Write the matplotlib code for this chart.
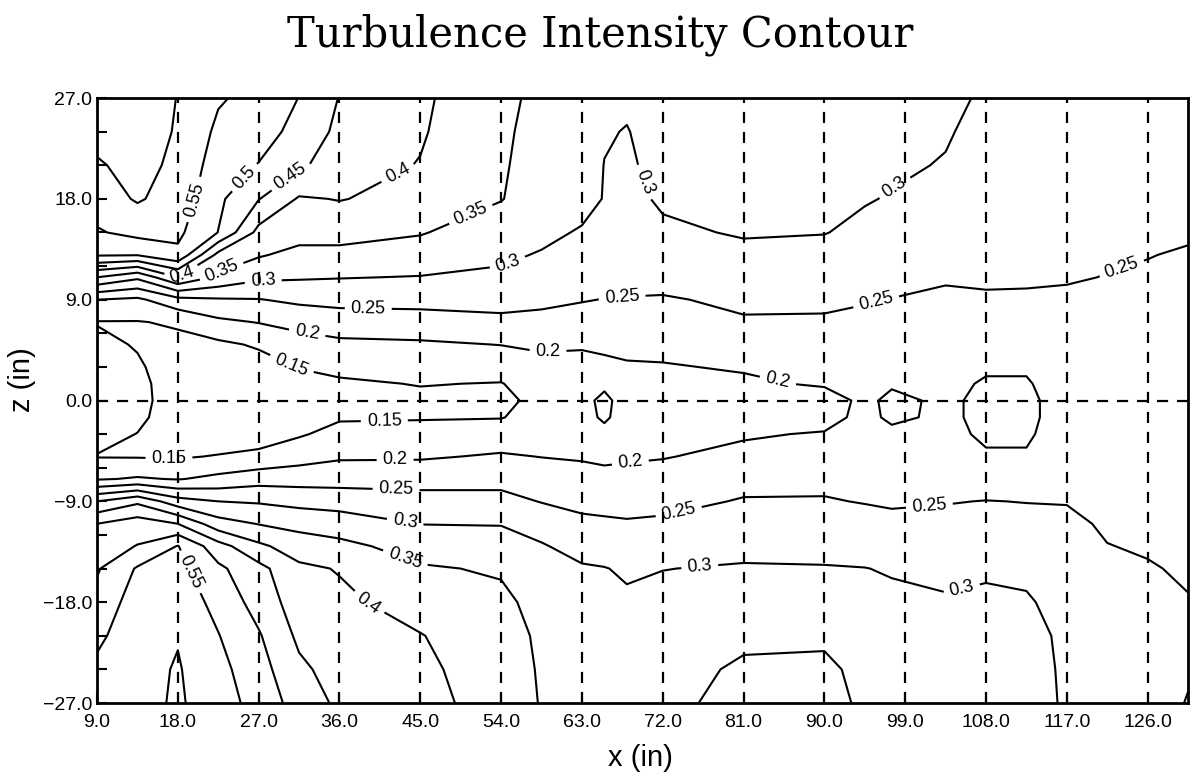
import numpy as np
import matplotlib
matplotlib.use("Agg")
import matplotlib.pyplot as plt

x_st = [9, 13.5, 18, 22.5, 27, 31.5, 36, 45, 54, 58.5, 63, 65.5, 68, 72,
        81, 90, 94.5, 97.5, 103.5, 108, 112.5, 117, 121.5, 126, 130.5]
z_st = [-27, -24, -21, -18, -15, -13, -11, -9, -7, -5, -3, -1.5, 0,
        1.5, 3, 5, 7, 9, 11, 13, 15, 18, 21, 24, 27]

# turbulence intensity, one row per x station, z from -27 up to 27
ti = [
    [0.57, 0.56, 0.54, 0.515, 0.495, 0.475, 0.45, 0.35, 0.195, 0.148, 0.165, 0.17, 0.175,
     0.175, 0.17, 0.16, 0.148, 0.2, 0.35, 0.505, 0.545, 0.575, 0.595, 0.615, 0.63],
    [0.585, 0.583, 0.58, 0.575, 0.555, 0.502, 0.475, 0.39, 0.205, 0.147, 0.149, 0.16, 0.165,
     0.163, 0.155, 0.147, 0.148, 0.19, 0.31, 0.503, 0.565, 0.605, 0.615, 0.628, 0.64],
    [0.606, 0.604, 0.597, 0.58, 0.565, 0.552, 0.45, 0.32, 0.197, 0.145, 0.13, 0.125, 0.125,
     0.125, 0.13, 0.14, 0.155, 0.235, 0.4, 0.54, 0.56, 0.58, 0.59, 0.595, 0.598],
    [0.575, 0.565, 0.552, 0.535, 0.51, 0.47, 0.37, 0.3, 0.213, 0.153, 0.12, 0.115, 0.115,
     0.115, 0.12, 0.14, 0.19, 0.245, 0.34, 0.385, 0.499, 0.51, 0.525, 0.54, 0.555],
    [0.53, 0.52, 0.505, 0.48, 0.465, 0.41, 0.348, 0.295, 0.23, 0.16, 0.13, 0.12, 0.115,
     0.12, 0.13, 0.156, 0.202, 0.248, 0.31, 0.355, 0.385, 0.452, 0.498, 0.52, 0.535],
    [0.48, 0.46, 0.44, 0.425, 0.41, 0.375, 0.335, 0.285, 0.23, 0.18, 0.145, 0.13, 0.125,
     0.135, 0.152, 0.18, 0.215, 0.26, 0.305, 0.335, 0.37, 0.395, 0.46, 0.485, 0.499],
    [0.44, 0.43, 0.42, 0.41, 0.397, 0.363, 0.325, 0.28, 0.23, 0.194, 0.165, 0.145, 0.135,
     0.143, 0.162, 0.19, 0.225, 0.265, 0.302, 0.335, 0.37, 0.402, 0.42, 0.438, 0.448],
    [0.415, 0.41, 0.402, 0.38, 0.355, 0.33, 0.299, 0.27, 0.23, 0.195, 0.16, 0.148, 0.14,
     0.152, 0.17, 0.193, 0.23, 0.265, 0.298, 0.33, 0.353, 0.385, 0.398, 0.405, 0.41],
    [0.38, 0.375, 0.37, 0.36, 0.345, 0.32, 0.298, 0.265, 0.235, 0.205, 0.175, 0.148, 0.14,
     0.148, 0.172, 0.201, 0.24, 0.265, 0.293, 0.307, 0.325, 0.352, 0.354, 0.355, 0.355],
    [0.347, 0.345, 0.342, 0.335, 0.32, 0.304, 0.28, 0.248, 0.225, 0.199, 0.18, 0.168, 0.162,
     0.175, 0.19, 0.205, 0.237, 0.26, 0.285, 0.297, 0.31, 0.325, 0.335, 0.34, 0.345],
    [0.335, 0.33, 0.325, 0.315, 0.305, 0.283, 0.26, 0.238, 0.215, 0.196, 0.18, 0.168, 0.165,
     0.17, 0.185, 0.205, 0.235, 0.252, 0.27, 0.285, 0.296, 0.315, 0.325, 0.33, 0.335],
    [0.335, 0.33, 0.325, 0.315, 0.302, 0.275, 0.257, 0.236, 0.212, 0.192, 0.165, 0.142, 0.138,
     0.16, 0.192, 0.207, 0.232, 0.249, 0.268, 0.285, 0.295, 0.298, 0.299, 0.304, 0.315],
    [0.33, 0.325, 0.318, 0.308, 0.293, 0.27, 0.255, 0.232, 0.213, 0.195, 0.18, 0.173, 0.172,
     0.182, 0.196, 0.21, 0.228, 0.248, 0.262, 0.272, 0.282, 0.29, 0.294, 0.298, 0.308],
    [0.342, 0.335, 0.325, 0.315, 0.299, 0.28, 0.257, 0.238, 0.215, 0.198, 0.185, 0.178, 0.175,
     0.185, 0.197, 0.212, 0.23, 0.246, 0.265, 0.285, 0.294, 0.305, 0.313, 0.32, 0.325],
    [0.36, 0.356, 0.342, 0.325, 0.305, 0.285, 0.268, 0.253, 0.237, 0.21, 0.196, 0.185, 0.183,
     0.193, 0.204, 0.225, 0.246, 0.258, 0.275, 0.292, 0.303, 0.31, 0.318, 0.325, 0.33],
    [0.358, 0.356, 0.345, 0.325, 0.303, 0.285, 0.27, 0.253, 0.24, 0.22, 0.203, 0.185, 0.18,
     0.205, 0.215, 0.23, 0.245, 0.258, 0.275, 0.29, 0.301, 0.31, 0.318, 0.325, 0.33],
    [0.346, 0.342, 0.33, 0.318, 0.301, 0.28, 0.265, 0.248, 0.238, 0.225, 0.218, 0.212, 0.21,
     0.213, 0.218, 0.227, 0.24, 0.253, 0.268, 0.28, 0.293, 0.302, 0.308, 0.315, 0.32],
    [0.335, 0.33, 0.32, 0.31, 0.296, 0.275, 0.258, 0.246, 0.235, 0.222, 0.21, 0.192, 0.19,
     0.205, 0.215, 0.225, 0.238, 0.249, 0.263, 0.275, 0.285, 0.298, 0.305, 0.31, 0.315],
    [0.325, 0.32, 0.315, 0.305, 0.288, 0.275, 0.262, 0.248, 0.23, 0.218, 0.21, 0.208, 0.208,
     0.21, 0.215, 0.225, 0.233, 0.243, 0.254, 0.27, 0.28, 0.29, 0.298, 0.303, 0.307],
    [0.325, 0.322, 0.317, 0.308, 0.294, 0.278, 0.265, 0.251, 0.228, 0.204, 0.194, 0.19, 0.19,
     0.196, 0.205, 0.222, 0.235, 0.246, 0.255, 0.262, 0.27, 0.278, 0.285, 0.29, 0.296],
    [0.31, 0.31, 0.308, 0.303, 0.294, 0.275, 0.262, 0.249, 0.226, 0.204, 0.194, 0.19, 0.19,
     0.196, 0.205, 0.22, 0.235, 0.246, 0.254, 0.26, 0.265, 0.273, 0.28, 0.285, 0.29],
    [0.297, 0.296, 0.295, 0.29, 0.28, 0.27, 0.26, 0.248, 0.235, 0.228, 0.222, 0.22, 0.22,
     0.222, 0.225, 0.23, 0.237, 0.244, 0.253, 0.258, 0.262, 0.27, 0.275, 0.28, 0.285],
    [0.283, 0.28, 0.276, 0.27, 0.26, 0.251, 0.244, 0.24, 0.237, 0.232, 0.228, 0.225, 0.225,
     0.226, 0.228, 0.232, 0.237, 0.243, 0.249, 0.254, 0.258, 0.265, 0.27, 0.275, 0.28],
    [0.268, 0.266, 0.264, 0.26, 0.253, 0.246, 0.242, 0.238, 0.235, 0.23, 0.227, 0.225, 0.225,
     0.226, 0.228, 0.232, 0.235, 0.24, 0.246, 0.251, 0.255, 0.26, 0.265, 0.27, 0.275],
    [0.248, 0.254, 0.255, 0.252, 0.245, 0.241, 0.238, 0.235, 0.232, 0.228, 0.225, 0.224, 0.224,
     0.225, 0.227, 0.23, 0.234, 0.238, 0.242, 0.247, 0.254, 0.258, 0.262, 0.266, 0.27],
]

levels = [0.15, 0.2, 0.25, 0.3, 0.35, 0.4, 0.45, 0.5, 0.55, 0.6]
traverse_x = [18, 27, 36, 45, 54, 63, 72, 81, 90, 99, 108, 117, 126]

# where the contour labels sit on the original
label_spots = [
    (20, 17.9), (25.7, 19.7), (31, 19.5), (18.6, 11.0), (43.8, 18.3),
    (23, 11.2), (50.9, 16.1), (27.5, 10.7), (54.8, 12.1), (70, 19.5),
    (98, 18.8), (39.2, 8.1), (67.5, 9.0), (95.8, 8.7), (123.2, 11.6),
    (32.4, 6.0), (59.2, 4.7), (85, 2.4), (30.5, 2.9),
    (17, -5.5), (41, -2.2), (42.2, -5.6), (68.4, -5.6),
    (42.3, -8.0), (73.8, -10.0), (101.7, -9.5),
    (43.3, -10.9), (76.1, -14.6), (105.3, -16.8),
    (43.5, -13.7), (40, -17.0), (19.4, -15.3),
]

plt.rcParams['font.family'] = ['Liberation Sans', 'DejaVu Sans']

fig = plt.figure(figsize=(11.95, 7.75), dpi=100)
ax = fig.add_axes([0.0812, 0.0929, 0.913, 0.7806])

X, Z = np.meshgrid(x_st, z_st)
V = np.array(ti).T
cs = ax.contour(X, Z, V, levels=levels, colors='black', linewidths=1.5)
ax.clabel(cs, fmt=lambda v: f"{v:g}", manual=label_spots, inline=True,
          fontsize=13, inline_spacing=6)

for xv in traverse_x:
    ax.axvline(xv, color='black', lw=1.6, ls=(0, (5, 4)))
ax.axhline(0, color='black', lw=1.6, ls=(0, (5, 4)))

ax.set_xlim(9, 130.5)
ax.set_ylim(-27, 27)
xt = np.arange(9, 127, 9)
ax.set_xticks(xt)
ax.set_xticklabels([f"{v:.1f}" for v in xt])
yt = np.arange(-27, 28, 9)
ax.set_yticks(yt)
ax.set_yticklabels([f"{v:.1f}".replace('-', '\u2212') for v in yt])
ax.set_yticks(np.arange(-27, 28, 3), minor=True)
ax.tick_params(which='both', direction='in', length=7, width=1.5,
               labelsize=14, top=False, right=False)
ax.tick_params(axis='x', pad=8)
for sp in ax.spines.values():
    sp.set_linewidth(2)

fig.text(0.502, 0.955, "Turbulence Intensity Contour", ha='center', va='center',
         fontsize=30, family='DejaVu Serif')
fig.text(0.536, 0.022, "x (in)", ha='center', va='center', fontsize=21)
fig.text(0.018, 0.51, "z (in)", ha='center', va='center', fontsize=21, rotation=90)

fig.savefig("out.png", dpi=100)
